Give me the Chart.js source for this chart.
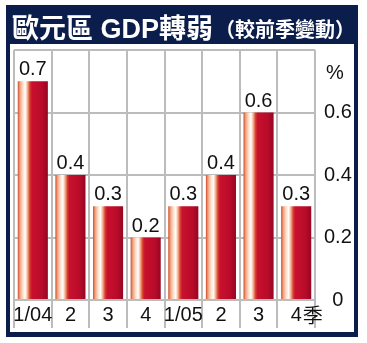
<!DOCTYPE html>
<html>
<head>
<meta charset="utf-8">
<script src="https://cdn.jsdelivr.net/npm/chart.js@4.4.0/dist/chart.umd.min.js"></script>
<style>
  html, body { margin: 0; padding: 0; background: #fff; }
  #wrap { width: 367px; height: 343px; }
</style>
</head>
<body>
<div id="wrap"><canvas id="gdpChart" width="367" height="343"></canvas></div>
<script>
// 季度 (2004 ~ 2005)
const quarters = ['1/04', '2', '3', '4', '1/05', '2', '3', '4'];
// 較前季變動 (%)
const gdpChange = [0.7, 0.4, 0.3, 0.2, 0.3, 0.4, 0.6, 0.3];
const yTicks = [0, 0.2, 0.4, 0.6, 0.8];
const titleMain = '歐元區 GDP轉弱';
const titleSub = '（較前季變動）';
const yUnit = '%';
const xUnit = '季';

const NAVY = '#0b1d4b';
const GRID = '#bcbcbc';
const NARROW = "'Liberation Sans Narrow', 'Arial Narrow', 'Liberation Sans', Arial, sans-serif";
const TITLE_FONT = "'Liberation Sans', 'Noto Sans CJK TC', sans-serif";

// bar fill: shiny red cylinder look
function barGradient(context) {
  const chart = context.chart;
  const xs = chart.scales.x;
  if (!xs || context.dataIndex === undefined) return '#c8102e';
  const cx = xs.getPixelForValue(context.dataIndex);
  const w = xs.width / quarters.length * 0.8;
  if (!isFinite(cx) || !isFinite(w) || w <= 0) return '#c8102e';
  const g = chart.ctx.createLinearGradient(cx - w / 2, 0, cx + w / 2, 0);
  g.addColorStop(0, '#d04a2a');
  g.addColorStop(0.07, '#f0a07c');
  g.addColorStop(0.17, '#fde0cc');
  g.addColorStop(0.25, '#ffffff');
  g.addColorStop(0.33, '#f3a684');
  g.addColorStop(0.40, '#d4402c');
  g.addColorStop(0.47, '#c8102e');
  g.addColorStop(0.80, '#b80c2a');
  g.addColorStop(1, '#960622');
  return g;
}

// navy frame + title
const frame = {
  id: 'frame',
  beforeDraw(chart) {
    const { ctx, width, height } = chart;
    ctx.save();
    ctx.fillStyle = '#fff';
    ctx.fillRect(0, 0, width, height);
    ctx.fillStyle = NAVY;
    ctx.fillRect(6, 5, 352, 332);
    ctx.fillStyle = '#fff';
    ctx.fillRect(10, 44, 344, 288);

    ctx.fillStyle = '#fff';
    ctx.textBaseline = 'alphabetic';
    ctx.textAlign = 'left';
    ctx.font = `bold 27px ${TITLE_FONT}`;
    ctx.fillText(titleMain, 12, 38);
    const w = ctx.measureText(titleMain).width;
    ctx.font = `bold 20px ${TITLE_FONT}`;
    ctx.fillText(titleSub, 12 + w + 2, 37);
    ctx.restore();
  }
};

// value on top of each bar
const valueLabels = {
  id: 'valueLabels',
  afterDatasetsDraw(chart) {
    const { ctx } = chart;
    const meta = chart.getDatasetMeta(0);
    ctx.save();
    ctx.font = `20px ${NARROW}`;
    ctx.fillStyle = '#111';
    ctx.textAlign = 'center';
    ctx.textBaseline = 'alphabetic';
    meta.data.forEach((bar, i) => {
      ctx.fillText(String(gdpChange[i]), bar.x, bar.y - 6);
    });
    ctx.restore();
  }
};

// unit texts: % above y axis, 季 after last quarter
const unitLabels = {
  id: 'unitLabels',
  afterDraw(chart) {
    const { ctx, scales: { x } } = chart;
    ctx.save();
    ctx.fillStyle = '#111';
    ctx.textBaseline = 'middle';
    ctx.textAlign = 'center';
    ctx.font = `20px ${NARROW}`;
    ctx.fillText(yUnit, 335, 73);
    const last = quarters.length - 1;
    const lw = ctx.measureText(quarters[last]).width;
    ctx.textAlign = 'left';
    ctx.font = "20px 'Noto Sans CJK TC', sans-serif";
    ctx.fillText(xUnit, x.getPixelForValue(last) + lw / 2 + 1, x.top + 15);
    ctx.restore();
  }
};

const configBar = {
  type: 'bar',
  data: {
    labels: quarters,
    datasets: [{
      data: gdpChange,
      backgroundColor: barGradient,
      borderWidth: 0,
      barPercentage: 0.8,
      categoryPercentage: 1
    }]
  },
  options: {
    responsive: false,
    animation: false,
    layout: { padding: { left: 14, top: 50, right: 0, bottom: 15 } },
    plugins: {
      legend: { display: false },
      tooltip: { enabled: false }
    },
    scales: {
      x: {
        offset: true,
        grid: {
          offset: true,
          color: GRID,
          lineWidth: 2,
          drawTicks: true,
          tickLength: 28,
          tickWidth: 2,
          tickColor: c => c.index === quarters.length ? 'rgba(0,0,0,0)' : GRID
        },
        border: { display: false },
        ticks: {
          font: { family: NARROW, size: 20 },
          color: '#111',
          padding: -25,
          maxRotation: 0,
          autoSkip: false
        },
        afterFit(scale) { scale.height = 28; }
      },
      y: {
        position: 'right',
        min: 0,
        max: 0.8,
        afterBuildTicks(scale) { scale.ticks = yTicks.map(v => ({ value: v })); },
        grid: { color: GRID, lineWidth: 2, drawTicks: false },
        border: { display: false },
        ticks: {
          font: { family: NARROW, size: 20 },
          color: '#111',
          padding: 9,
          crossAlign: 'center',
          callback: v => (v === 0.8 ? '' : String(v))
        },
        afterFit(scale) { scale.width = 52; }
      }
    }
  },
  plugins: [frame, valueLabels, unitLabels]
};

const gdpChart = new Chart(document.getElementById('gdpChart'), configBar);
</script>
</body>
</html>
